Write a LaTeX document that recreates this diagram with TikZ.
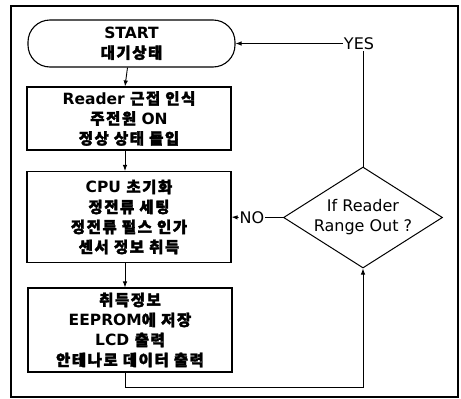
\documentclass[tikz,border=0pt]{standalone}
\usepackage{fontspec}
\setmainfont{DejaVu Sans}
\newfontfamily\kr[FakeBold=2.2, LetterSpace=10]{Noto Sans CJK KR}
\usetikzlibrary{shapes.geometric,arrows.meta}

\tikzset{
  every picture/.style={x=1pt,y=-1pt},
  txt/.style={font=\fontsize{15.5}{20}\selectfont\bfseries, align=center, inner sep=0pt},
  stepbox/.style={txt, draw, line width=1.1pt, minimum width=204pt},
  term/.style={txt, draw, line width=1.1pt, minimum width=207pt, minimum height=47pt, rounded corners=22pt},
  decide/.style={diamond, draw, line width=1pt, minimum width=159pt, minimum height=101pt,
                 aspect=1.574, inner sep=0pt, align=center, font=\fontsize{16}{20}\selectfont},
  lbl/.style={font=\fontsize{16}{20}\selectfont, inner sep=1pt},
  link/.style={line width=0.9pt},
  arr/.style={link, -{Latex[length=6pt,width=4.5pt]}},
}

% Hangul words in the CJK face, heavy and slightly spaced
\newcommand{\hg}[1]{{\kr\bfseries #1}}

\begin{document}
\begin{tikzpicture}
  \useasboundingbox (0,0) rectangle (461,399);
  % outer frame
  \draw[line width=1.1pt] (11,6) rectangle (458,397);

  % flow steps
  \node[term] (start) at (131.5,43.5) {START\\\hg{대기상태}};
  \node[stepbox, minimum height=63pt] (read) at (129,118.5)
    {Reader \hg{근접 인식}\\\hg{주전원} ON\\\hg{정상 상태 돌입}};
  \node[stepbox, minimum height=91pt] (cpu) at (129,217)
    {CPU \hg{초기화}\\\hg{정전류 세팅}\\\hg{정전류 펄스 인가}\\\hg{센서 정보 취득}};
  \node[stepbox, minimum height=84pt] (save) at (130,330)
    {\hg{취득정보}\\EEPROM\hg{에 저장}\\LCD \hg{출력}\\\hg{안테나로 데이터 출력}};

  % decision
  \node[decide] (dec) at (363,217.5) {If Reader\\Range Out ?};
  \node[lbl] (yes) at (359,43.5) {YES};
  \node[lbl] (no) at (252,217.5) {NO};
  \coordinate (loop) at (363,387);

  % connectors
  \draw[arr] ([xshift=-4pt]start.south) -- ([xshift=-4pt]read.north);
  \draw[arr] ([xshift=-4pt]read.south) -- ([xshift=-4pt]cpu.north);
  \draw[arr] ([xshift=-4pt]cpu.south) -- ([xshift=-5pt]save.north);
  \draw[arr] ([xshift=-5pt]save.south) |- (loop) -- (dec.south);
  \draw[link] (dec.north) -- (dec.north |- yes.south);
  \draw[arr] (yes.west) -- (start.east);
  \draw[link] (dec.west) -- (no.east);
  \draw[arr] (no.west) -- (cpu.east);
\end{tikzpicture}
\end{document}
